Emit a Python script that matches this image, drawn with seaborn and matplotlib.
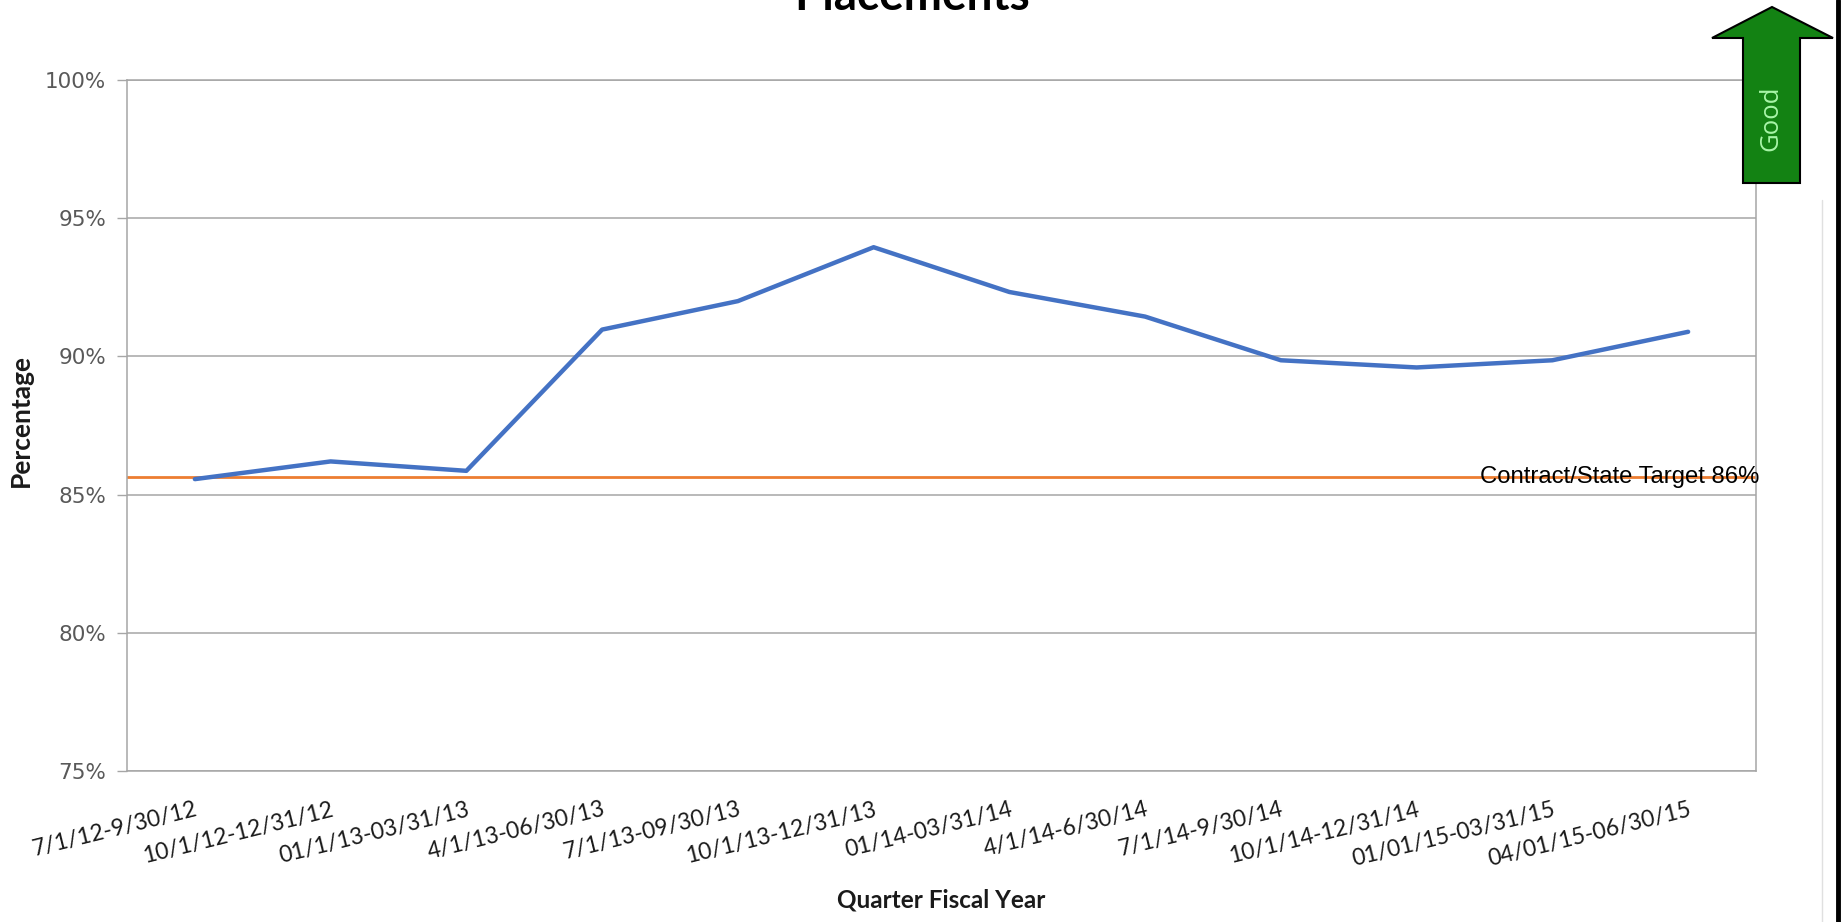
import numpy as np
import pandas as pd
import matplotlib
matplotlib.use("Agg")
import matplotlib.pyplot as plt
import seaborn as sns
from matplotlib.patches import Polygon
from matplotlib.lines import Line2D
from matplotlib.ticker import FuncFormatter, FixedLocator

# ---- data ----
quarters = ["7/1/12-9/30/12", "10/1/12-12/31/12", "01/1/13-03/31/13", "4/1/13-06/30/13",
            "7/1/13-09/30/13", "10/1/13-12/31/13", "01/14-03/31/14", "4/1/14-6/30/14",
            "7/1/14-9/30/14", "10/1/14-12/31/14", "01/01/15-03/31/15", "04/01/15-06/30/15"]
percentages = [85.56, 86.2, 85.86, 90.97, 92.0, 93.95, 92.33, 91.44, 89.86, 89.6, 89.86, 90.89]
target_value = 85.65
target_label = "Contract/State Target 86%"
y_ticks = [75, 80, 85, 90, 95, 100]
title = "Placements"
x_title = "Quarter Fiscal Year"
y_title = "Percentage"

df = pd.DataFrame({"quarter": quarters, "pct": percentages})

sns.set_theme(style="white")
plt.rcParams["font.family"] = ["Lato", "DejaVu Sans"]

W, H = 1845, 922
fig = plt.figure(figsize=(W / 100, H / 100), dpi=100)
ax = fig.add_axes([127 / W, 1 - 771 / H, (1756 - 127) / W, (771 - 80) / H])

grid_c = "#A6A6A6"
for v in y_ticks:
    ax.axhline(v, color=grid_c, lw=1.1, zorder=1)

ax.axhline(target_value, color="#ED7D31", lw=2.0, zorder=2)

sns.lineplot(data=df, x="quarter", y="pct", sort=False, ax=ax, color="#4472C4",
             lw=3.2, zorder=3, solid_joinstyle="round", solid_capstyle="round")

ax.set_xlim(-0.5, len(quarters) - 0.5)
ax.set_ylim(75, 100)
ax.yaxis.set_major_locator(FixedLocator(y_ticks))
ax.yaxis.set_major_formatter(FuncFormatter(lambda v, p: f"{v:.0f}%"))
ax.set_xticks(range(len(quarters)))
ax.set_xticklabels(quarters)
ax.tick_params(axis="x", length=0, pad=20)
ax.tick_params(axis="y", length=7, width=1, color=grid_c, pad=8, left=True)
for lab in ax.get_xticklabels():
    lab.set_rotation(14)
    lab.set_rotation_mode("anchor")
    lab.set_ha("right")
    lab.set_va("top")
    lab.set_fontsize(16.5)
    lab.set_color("#1a1a1a")
for lab in ax.get_yticklabels():
    lab.set_fontfamily("DejaVu Sans")
    lab.set_fontsize(15.5)
    lab.set_color("#595959")

for s in ax.spines.values():
    s.set_visible(True)
    s.set_color(grid_c)
    s.set_linewidth(1.1)

ax.set_xlabel("")
ax.set_ylabel("")
fig.text(941 / W, 1 - 900 / H, x_title, ha="center", va="center", fontsize=17.5,
         fontweight="bold", color="#1a1a1a")
fig.text(21 / W, 1 - 420 / H, y_title, ha="center", va="center", rotation=90,
         fontsize=19, fontweight="bold", color="#1a1a1a")

# target label
ax.text(1.002, target_value, target_label, transform=ax.get_yaxis_transform(),
        ha="right", va="center", fontsize=17.2, color="black",
        fontfamily="Liberation Sans", zorder=4)

# title (clipped at the top in the reference)
fig.text(912 / W, 1 - 10 / H, title, ha="center", va="baseline", fontsize=33,
         fontweight="bold", color="black")

# "Good" arrow
pts = [(1772, 7), (1712, 38), (1743, 38), (1743, 183), (1800, 183), (1800, 38), (1833, 38)]
arrow = Polygon([(x / W, 1 - y / H) for x, y in pts], closed=True,
                transform=fig.transFigure, facecolor="#138213", edgecolor="black",
                lw=1.5, zorder=5)
fig.patches.append(arrow)
fig.text(1771 / W, 1 - 118 / H, "Good", rotation=90, ha="center", va="center",
         fontsize=18.5, color="#A8F5A8", fontfamily="Open Sans", zorder=6)

# right black border and faint frame line
fig.add_artist(Line2D([1838 / W, 1838 / W], [0, 1], transform=fig.transFigure,
                      color="black", lw=3.5))
fig.add_artist(Line2D([1822 / W, 1822 / W], [0, 1 - 200 / H], transform=fig.transFigure,
                      color="#E0E0E0", lw=1))

fig.savefig("out.png", dpi=100)
